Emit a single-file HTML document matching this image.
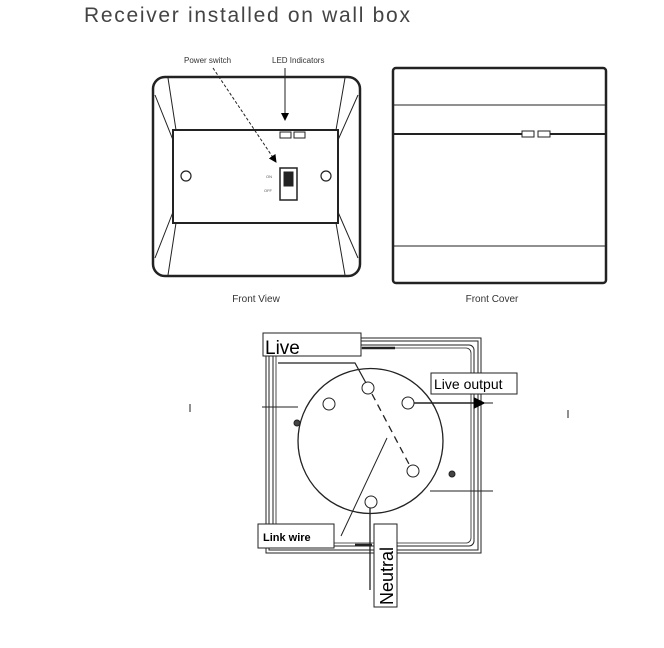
<!DOCTYPE html>
<html><head><style>
body{margin:0;background:#fff;width:664px;height:648px;overflow:hidden;position:relative;font-family:"Liberation Sans",sans-serif}
.t{position:absolute;white-space:nowrap}
</style></head><body>
<div class="t" style="left:84px;top:4px;font-size:21px;color:#444;letter-spacing:1.7px">Receiver installed on wall box</div>
<svg width="664" height="648" style="position:absolute;left:0;top:0" font-family="Liberation Sans, sans-serif">
<defs><marker id="ah" markerWidth="8" markerHeight="8" refX="7" refY="4" orient="auto"><path d="M0,0 L8,4 L0,8z" fill="#000"/></marker></defs>
<!-- Front view -->
<g stroke="#222" fill="none">
<rect x="153" y="77" width="207" height="199" rx="12" stroke-width="2.5"/>
<rect x="173" y="130" width="165" height="93" stroke-width="2"/>
<path d="M168,78 L176,130 M345,78 L336,130 M176,223 L168,275 M336,223 L345,275 M155,95 L173,140 M358,95 L338,140 M155,258 L173,212 M358,258 L338,212" stroke-width="1"/>
<circle cx="186" cy="176" r="5" stroke-width="1.2"/><circle cx="326" cy="176" r="5" stroke-width="1.2"/>
<rect x="280" y="132" width="11" height="6"/><rect x="294" y="132" width="11" height="6"/>
<rect x="280" y="168" width="17" height="32" stroke-width="1.5"/>
<rect x="284" y="172" width="9" height="14" fill="#222"/>
<path d="M213,68 L276,162" stroke-dasharray="3,2" marker-end="url(#ah)"/>
<path d="M285,68 L285,120" marker-end="url(#ah)"/>
</g>
<text x="184" y="63" font-size="8" fill="#333">Power switch</text>
<text x="272" y="63" font-size="8" fill="#333">LED Indicators</text>
<text x="266" y="178" font-size="4" fill="#555">ON</text>
<text x="264" y="192" font-size="4" fill="#555">OFF</text>
<text x="256" y="302" font-size="10" fill="#333" text-anchor="middle">Front View</text>
<!-- Front cover -->
<g stroke="#222" fill="none">
<rect x="393" y="68" width="213" height="215" rx="3" stroke-width="2.5"/>
<path d="M394,105 H605 M394,246 H605" stroke-width="1"/>
<path d="M394,134 H522 M550,134 H605" stroke-width="2"/>
<rect x="522" y="131" width="12" height="6"/><rect x="538" y="131" width="12" height="6"/>
</g>
<text x="492" y="302" font-size="10" fill="#333" text-anchor="middle">Front Cover</text>
<!-- Wiring diagram -->
<g stroke="#222" fill="none">
<rect x="266" y="338" width="215" height="215" stroke-width="1"/>
<rect x="269" y="341" width="209" height="209" stroke-width="1"/>
<rect x="273" y="345" width="201" height="201" rx="5" stroke-width="1"/>
<rect x="276" y="348" width="195" height="195" rx="5" stroke-width="0.8"/>
<path d="M362,348 H395 M355,545 H372" stroke-width="2.5"/>
<circle cx="370.5" cy="441" r="72.5" stroke-width="1.3"/>
<circle cx="368" cy="388" r="6"/><circle cx="329" cy="404" r="6"/><circle cx="408" cy="403" r="6"/><circle cx="413" cy="471" r="6"/><circle cx="371" cy="502" r="6"/>
<path d="M372,394 L410,466" stroke-dasharray="7,5" stroke-width="1.3"/>
<path d="M278,363 H355 L366,383" stroke-width="1.2"/>
<path d="M414,403 H484" stroke-width="1.5" marker-end="url(#ah)"/>
<path d="M484,403 H493" stroke-width="1"/>
<path d="M262,407 H298 M430,491 H493" stroke-width="1"/>
<path d="M341,536 L387,438" stroke-width="1"/>
<path d="M370,508 V590" stroke-width="1.3"/>
<path d="M190,404 V412 M568,410 V418" stroke-width="1"/>
<circle cx="297" cy="423" r="3" fill="#444"/><circle cx="452" cy="474" r="3" fill="#444"/>
<rect x="263" y="333" width="98" height="23" fill="#fff" stroke-width="1"/>
<rect x="431" y="373" width="86" height="21" fill="#fff" stroke-width="1"/>
<rect x="258" y="524" width="76" height="24" fill="#fff" stroke-width="1"/>
<rect x="374" y="524" width="23" height="83" fill="#fff" stroke-width="1"/>
</g>
<text x="265" y="354" font-size="19" fill="#000">Live</text>
<text x="434" y="389" font-size="14" fill="#000">Live output</text>
<text x="263" y="541" font-size="11" font-weight="bold" fill="#000">Link wire</text>
<text transform="translate(393,605) rotate(-90)" font-size="18" fill="#000">Neutral</text>
</svg>
</body></html>
